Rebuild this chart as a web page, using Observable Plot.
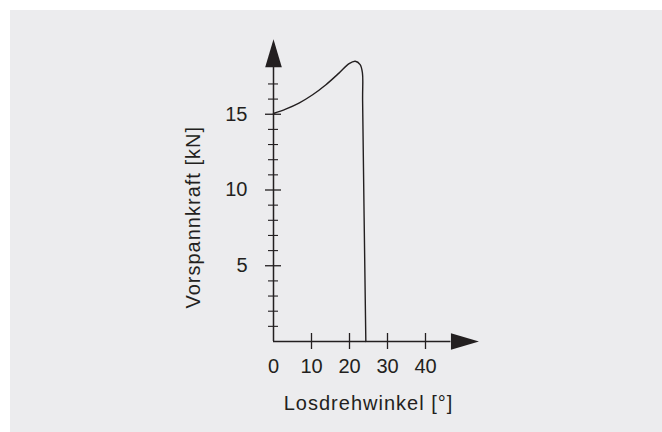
<!DOCTYPE html>
<html>
<head>
<meta charset="utf-8">
<script src="https://cdn.jsdelivr.net/npm/d3@7"></script>
<script src="https://cdn.jsdelivr.net/npm/@observablehq/plot@0.6"></script>
<style>
  html, body { margin: 0; padding: 0; background: #ffffff; }
  #panel { position: absolute; left: 10px; top: 10px; right: 0; bottom: 0; background: #ececee; }
  #chart { position: absolute; left: 0; top: 0; }
  #chart svg { overflow: visible; }
</style>
</head>
<body>
<div id="panel"></div>
<div id="chart"></div>
<script>
// Curve: Losdrehwinkel [°] vs Vorspannkraft [kN]
const angle = [0, 3.2, 6.7, 10.3, 13.8, 17.3, 19.9, 21.5, 22.8, 23.4, 23.45, 24.3];
const force = [15.05, 15.34, 15.74, 16.29, 16.95, 17.73, 18.34, 18.5, 18.28, 17.73, 15.9, 0];

// Axes
const xTickValues = [10, 20, 30, 40];
const xTickLabels = ["0", "10", "20", "30", "40"];
const xLabelValues = [0, 10, 20, 30, 40];
const yMajorTicks = [5, 10, 15];
const yMinorTicks = [1, 2, 3, 4, 6, 7, 8, 9, 11, 12, 13, 14, 16, 17];
const yTickLabels = ["5", "10", "15"];
const xAxisEnd = 46.7;
const yAxisEnd = 18.1;
const xTitle = "Losdrehwinkel [°]";
const yTitle = "Vorspannkraft [kN]";

const ink = "#231f20";
const font = "'Liberation Sans', Arial, Helvetica, sans-serif";

const curve = angle.map((a, i) => ({a, f: force[i]}));

// filled arrowhead symbol pointing up, tip 28px from base
const arrowHead = {
  draw(context) {
    context.moveTo(0, -28);
    context.lineTo(8.3, 0);
    context.lineTo(-8.3, 0);
    context.closePath();
  }
};

const chart = Plot.plot({
  width: 662,
  height: 432,
  marginLeft: 273,
  marginRight: 199,
  marginTop: 38,
  marginBottom: 91,
  x: {domain: [0, 50], axis: null},
  y: {domain: [0, 20], axis: null},
  style: {background: "transparent", fontFamily: font, color: ink},
  marks: [
    // axis lines
    Plot.ruleY([0], {x1: 0, x2: xAxisEnd, stroke: ink, strokeWidth: 1.5}),
    Plot.ruleX([0], {y1: 0, y2: yAxisEnd, stroke: ink, strokeWidth: 1.5}),
    // arrowheads
    Plot.dot([{x: 0, y: yAxisEnd, r: 0}], {x: "x", y: "y", symbol: arrowHead, fill: ink, stroke: null, rotate: 0}),
    Plot.dot([{x: xAxisEnd, y: 0}], {x: "x", y: "y", symbol: arrowHead, fill: ink, stroke: null, rotate: 90}),
    // x ticks
    Plot.ruleX(xTickValues, {x: d => d, y1: 0, y2: 0, insetTop: -8, insetBottom: -8, stroke: ink, strokeWidth: 1.3}),
    // y ticks
    Plot.ruleY(yMajorTicks, {y: d => d, x1: 0, x2: 0, insetLeft: -8, insetRight: -8, stroke: ink, strokeWidth: 1.3}),
    Plot.ruleY(yMinorTicks, {y: d => d, x1: 0, x2: 0, insetLeft: -5, insetRight: -5, stroke: ink, strokeWidth: 1.1}),
    // tick labels
    Plot.text(xLabelValues, {x: d => d, y: 0, text: (d, i) => xTickLabels[i], dy: 25, fontSize: 20, fill: ink}),
    Plot.text(yMajorTicks, {x: 0, y: d => d, text: (d, i) => yTickLabels[i], dx: -26, textAnchor: "end", fontSize: 20, fill: ink}),
    // axis titles
    Plot.text([xTitle], {x: 25, y: 0, text: d => d, dy: 62, fontSize: 20, fill: ink, letterSpacing: 1}),
    Plot.text([yTitle], {x: 0, y: 8.2, text: d => d, dx: -80, rotate: -90, fontSize: 20, fill: ink}),
    // curve
    Plot.line(curve, {x: "a", y: "f", curve: "catmull-rom", stroke: ink, strokeWidth: 1.4})
  ]
});

// letter spacing on titles
chart.querySelectorAll("text").forEach(t => {
  if (t.textContent === xTitle || t.textContent === yTitle) t.setAttribute("letter-spacing", "1");
});

document.getElementById("chart").appendChild(chart);
</script>
</body>
</html>
